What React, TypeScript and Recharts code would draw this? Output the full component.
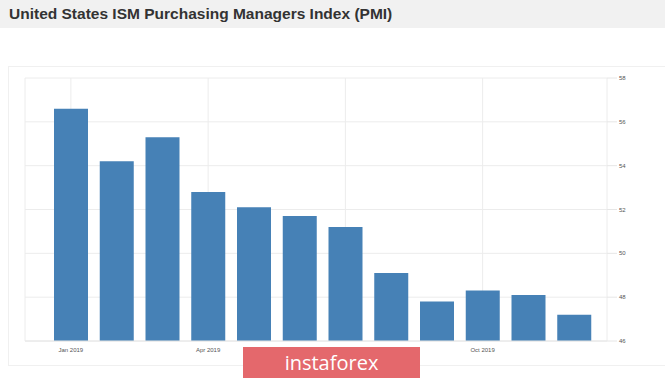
import { Bar, BarChart, CartesianGrid, XAxis, YAxis } from 'recharts';

const months = [
  'Jan 2019', 'Feb 2019', 'Mar 2019', 'Apr 2019', 'May 2019', 'Jun 2019',
  'Jul 2019', 'Aug 2019', 'Sep 2019', 'Oct 2019', 'Nov 2019', 'Dec 2019',
];
const pmiValues = [56.6, 54.2, 55.3, 52.8, 52.1, 51.7, 51.2, 49.1, 47.8, 48.3, 48.1, 47.2];
const yTicks = [46, 48, 50, 52, 54, 56, 58];

const chartData = months.map((month, i) => ({ month, pmi: pmiValues[i] }));

export default function App() {
  return (
    <div
      style={{
        position: 'fixed',
        left: 0,
        top: 0,
        width: 665,
        height: 378,
        background: '#fff',
        overflow: 'hidden',
        fontFamily: '"Liberation Sans", Arial, sans-serif',
      }}
    >
      <div
        style={{
          position: 'absolute',
          left: 0,
          top: 0,
          width: 665,
          height: 28,
          background: '#f1f1f1',
        }}
      />
      <div
        style={{
          position: 'absolute',
          left: 9,
          top: 5,
          fontSize: 15.5,
          fontWeight: 'bold',
          color: '#333',
          whiteSpace: 'nowrap',
        }}
      >
        United States ISM Purchasing Managers Index (PMI)
      </div>
      <div
        style={{
          position: 'absolute',
          left: 8,
          top: 66,
          width: 680,
          height: 298,
          border: '1px solid #f0f0f0',
        }}
      />
      <div style={{ position: 'absolute', left: 0, top: 0 }}>
        <BarChart
          width={665}
          height={378}
          data={chartData}
          barCategoryGap={6}
          margin={{ top: 78, right: 24, left: 25, bottom: 17 }}
        >
          <CartesianGrid stroke="#ececec" />
          <XAxis
            dataKey="month"
            interval={2}
            padding={{ left: 23, right: 10 }}
            axisLine={{ stroke: '#e6e6e6' }}
            tickLine={false}
            tick={{ fontSize: 6, fill: '#555' }}
            height={20}
            tickMargin={1}
          />
          <YAxis
            orientation="right"
            domain={[46, 58]}
            ticks={yTicks}
            axisLine={false}
            tickLine={{ stroke: '#e6e6e6' }}
            tickSize={10}
            tick={{ fontSize: 6, fill: '#555' }}
            width={34}
          />
          <Bar dataKey="pmi" fill="#4681b6" isAnimationActive={false} />
        </BarChart>
      </div>
      <div
        style={{
          position: 'absolute',
          left: 243,
          top: 347,
          width: 177,
          height: 31,
          background: '#e4686c',
          color: '#fff',
          fontSize: 20,
          fontFamily: '"Open Sans", sans-serif',
          display: 'flex',
          alignItems: 'center',
          justifyContent: 'center',
        }}
      >
        instaforex
      </div>
    </div>
  );
}
